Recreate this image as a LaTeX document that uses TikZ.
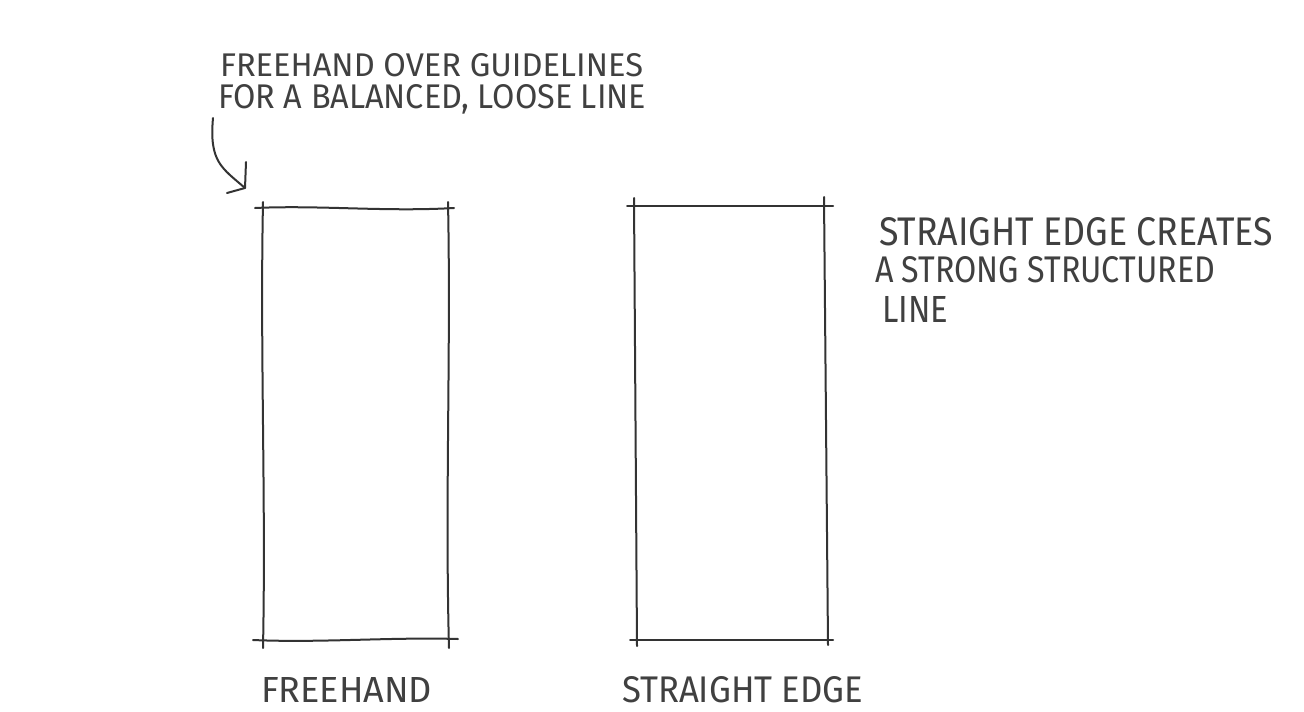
\documentclass[tikz,border=0pt]{standalone}
\usepackage{fontspec}
\setmainfont{Fira Sans}
\usepackage{graphicx}
\definecolor{ink}{HTML}{333333}
\definecolor{txt}{HTML}{404040}
\newcommand{\hwtext}[3]{\resizebox{#1pt}{#2pt}{#3}}
\begin{document}
\begin{tikzpicture}[x=1pt,y=-1pt,
  pen/.style={draw=ink,line width=2pt,line cap=round,line join=round},
  hand/.style={inner sep=0pt,outer sep=0pt,anchor=base west,text=txt}]
\useasboundingbox (0,0) rectangle (1304,712);
\fill[white] (0,0) rectangle (1304,712);

% annotation top-left
\node[hand] (t1) at (220,76) {\hwtext{423}{23}{FREEHAND OVER GUIDELINES}};
\node[hand] (t2) at (218,108) {\hwtext{428}{24}{FOR A BALANCED, LOOSE LINE}};

% arrow
\coordinate (atail) at (213,118);
\coordinate (atip) at (245,188);
\draw[pen] (atail) .. controls (209,162) and (222,168) .. (atip);
\draw[pen] (246,162) -- (atip) -- (227,193);

% freehand rectangle
\draw[pen] (255,208) .. controls (320,205) and (385,212) .. (454,208);
\draw[pen] (263,202) .. controls (260,350) and (266,500) .. (263,648);
\draw[pen] (448,202) .. controls (451,350) and (445,500) .. (449,648);
\draw[pen] (253,640) .. controls (320,643) and (390,637) .. (458,639);

% straight-edge rectangle
\draw[pen] (627,206) -- (833,206);
\draw[pen] (630,640) -- (833,640);
\draw[pen] (634,198) -- (637,646);
\draw[pen] (824,197) -- (828,645);

% annotation right
\node[hand] (r1) at (879,245) {\hwtext{394}{28}{STRAIGHT EDGE CREATES}};
\node[hand] (r2) at (875,282) {\hwtext{340}{26}{A STRONG STRUCTURED}};
\node[hand] (r3) at (882,322) {\hwtext{66}{26}{LINE}};

% bottom labels
\node[hand] (b1) at (261,702) {\hwtext{171}{25}{FREEHAND}};
\node[hand] (b2) at (622,702) {\hwtext{241}{26}{STRAIGHT EDGE}};
\end{tikzpicture}
\end{document}
